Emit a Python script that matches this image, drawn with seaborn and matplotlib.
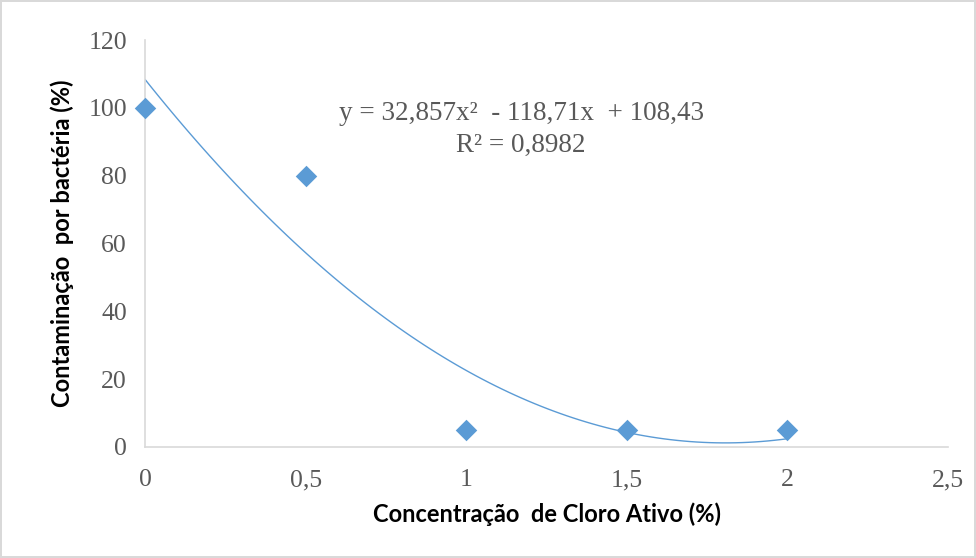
import matplotlib
matplotlib.use("Agg")
import matplotlib.pyplot as plt
import seaborn as sns
import pandas as pd

concentracao = [0, 0.5, 1, 1.5, 2]
contaminacao = [100, 80, 5, 5, 5]
x_ticks = [0, 0.5, 1, 1.5, 2, 2.5]
x_tick_labels = ["0", "0,5", "1", "1,5", "2", "2,5"]
y_ticks = [0, 20, 40, 60, 80, 100, 120]
y_tick_labels = ["0", "20", "40", "60", "80", "100", "120"]
equation = "y = 32,857x²  - 118,71x  + 108,43"
r2_text = "R² = 0,8982"

sns.set_style("white")
df = pd.DataFrame({"x": concentracao, "y": contaminacao})

fig = plt.figure(figsize=(9.76, 5.58), dpi=100)
fig.patch.set_edgecolor("#D9D9D9")
fig.patch.set_linewidth(1.5)
ax = fig.add_axes([0.1486, 0.199, 0.8227, 0.729])

blue = "#5B9BD5"
sns.regplot(data=df, x="x", y="y", order=2, ci=None, ax=ax,
            marker="D", color=blue,
            scatter_kws={"s": 120, "linewidths": 0, "zorder": 3, "alpha": 1,
                         "clip_on": False},
            line_kws={"linewidth": 1.0, "color": blue})

ax.set_xlim(0, 2.5)
ax.set_ylim(0, 120)
ax.set_xticks(x_ticks)
ax.set_xticklabels(x_tick_labels)
ax.set_yticks(y_ticks)
ax.set_yticklabels(y_tick_labels)
ax.tick_params(axis="both", length=0, labelsize=18.5, labelcolor="#595959",
               labelfontfamily="Liberation Serif")
ax.tick_params(axis="x", pad=16)
ax.tick_params(axis="y", pad=13)

for s in ["top", "right"]:
    ax.spines[s].set_visible(False)
for s in ["left", "bottom"]:
    ax.spines[s].set_color("#D9D9D9")
    ax.spines[s].set_linewidth(1.2)

ax.set_xlabel("Concentração  de Cloro Ativo (%)", fontfamily="Lato",
              fontweight="bold", fontsize=17, labelpad=8, color="black")
ax.set_ylabel("Contaminação  por bactéria (%)", fontfamily="Lato",
              fontweight="bold", fontsize=17, labelpad=10, color="black")

ax.text(1.171, 98.5, equation, ha="center", va="center",
        fontfamily="Liberation Serif", fontsize=19.5, color="#595959")
ax.text(1.171, 89, r2_text, ha="center", va="center",
        fontfamily="Liberation Serif", fontsize=19.5, color="#595959")

fig.savefig("out.png", dpi=100, edgecolor=fig.get_edgecolor())
